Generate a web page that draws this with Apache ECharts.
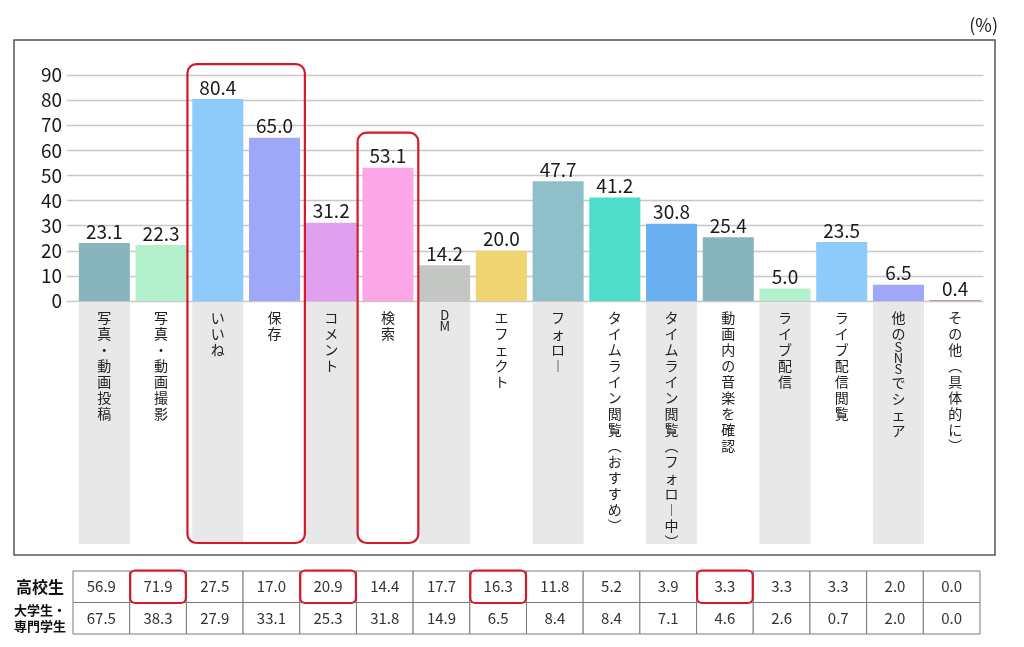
<!DOCTYPE html>
<html><head><meta charset="utf-8">
<script src="https://cdn.jsdelivr.net/npm/echarts@6/dist/echarts.min.js"></script>
<style>html,body{margin:0;padding:0;background:#fff}#c{width:1024px;height:647px}</style>
</head><body><div id="c"></div>
<script>
const categories = ['写真・動画投稿','写真・動画撮影','いいね','保存','コメント','検索','DM','エフェクト','フォロー','タイムライン閲覧（おすすめ）','タイムライン閲覧（フォロー中）','動画内の音楽を確認','ライブ配信','ライブ配信閲覧','他の SNS でシェア','その他（具体的に）'];
const totalValues = [23.1,22.3,80.4,65.0,31.2,53.1,14.2,20.0,47.7,41.2,30.8,25.4,5.0,23.5,6.5,0.4];
const barColors = ['#88b4bd','#b5f0cc','#8ecbfb','#9fa8f8','#e1a0ef','#fba6e6','#c4c6c4','#efd474','#8fbfc9','#4fdcc9','#6aaff0','#88b4bd','#b5f0cc','#8ecbfb','#9fa8f8','#d08a98'];
const yMin = 0, yMax = 90, yStep = 10;
const rowLabels = ['高校生','大学生・\n専門学生'];
const highSchool = [56.9,71.9,27.5,17.0,20.9,14.4,17.7,16.3,11.8,5.2,3.9,3.3,3.3,3.3,2.0,0.0];
const university = [67.5,38.3,27.9,33.1,25.3,31.8,14.9,6.5,8.4,8.4,7.1,4.6,2.6,0.7,2.0,0.0];
const highlightGroups = [[2,3],[5]];
const tableHighlights = [1,4,7,11];

const FONT = "'Noto Sans CJK JP','Noto Sans',sans-serif";
const RED = '#d4192b';

function vert(s){
  const map = {'（':'︵','）':'︶','ー':'︱'};
  return s.replace(/ /g,'').split('').map(ch => {
    const c = map[ch] || ch;
    return /[A-Za-z]/.test(c) ? '{lat|' + c + '}' : '{j|' + c + '}';
  }).join('\n');
}

const tableData = [];
highSchool.forEach((v,i) => tableData.push([i,0,v]));
university.forEach((v,i) => tableData.push([i,1,v]));

const chart = echarts.init(document.getElementById('c'), null, {renderer:'canvas'});
const option = {
  backgroundColor:'#fff',
  animation:false,
  textStyle:{fontFamily:FONT},
  grid:[
    {left:67, right:40.5, top:75, height:226},
    {left:76, right:40.5, top:75, height:226},
    {left:76, right:40.5, top:302, height:242},
    {left:73, right:44, top:571, height:63}
  ],
  xAxis:[
    {gridIndex:0, type:'value', min:0, max:1, show:false},
    {gridIndex:1, type:'category', data:categories, axisLine:{show:false}, axisTick:{show:false}, axisLabel:{show:false}},
    {gridIndex:2, type:'category', data:categories, axisLine:{show:false}, axisTick:{show:false}, axisLabel:{show:false}},
    {gridIndex:3, type:'category', data:categories, axisLine:{show:false}, axisTick:{show:false}, axisLabel:{show:false}}
  ],
  yAxis:[
    {gridIndex:0, type:'value', min:yMin, max:yMax, interval:yStep,
     axisLine:{show:false}, axisTick:{show:false},
     axisLabel:{fontSize:19, color:'#1a1a1a', margin:5, fontWeight:'normal', fontFamily:FONT},
     splitLine:{lineStyle:{color:'#c8c8c8', width:1.3}}},
    {gridIndex:1, type:'value', min:yMin, max:yMax, show:false},
    {gridIndex:2, type:'value', min:0, max:1, show:false},
    {gridIndex:3, type:'category', data:rowLabels, inverse:true,
     axisLine:{show:false}, axisTick:{show:false},
     axisLabel:{margin:33, align:'center',
       formatter:(v,i)=> i===0 ? '{a|'+v+'}' : v.split('\n').map(t=>'{b|'+t+'}').join('\n'),
       rich:{a:{fontSize:16, fontWeight:'bold', color:'#111', fontFamily:FONT},
             b:{fontSize:13, fontWeight:'bold', color:'#111', lineHeight:16, fontFamily:FONT}}}}
  ],
  series:[
    {type:'bar', xAxisIndex:1, yAxisIndex:1, barCategoryGap:'10%',
     data: totalValues.map((v,i)=>({value:v, itemStyle:{color:barColors[i]}})),
     label:{show:true, position:'top', distance:2, fontSize:19, color:'#1a1a1a', fontWeight:'normal', fontFamily:FONT,
            formatter:p=>p.value.toFixed(1)}},
    {type:'bar', xAxisIndex:2, yAxisIndex:2, barCategoryGap:'10%', silent:true,
     data: categories.map((c,i)=>({value:1, itemStyle:{color: i%2===0 ? '#e8e8e8' : 'rgba(255,255,255,0)'}})),
     label:{show:true, position:'insideTop', distance:8, color:'#222',
            formatter:p=>vert(p.name),
            rich:{j:{fontSize:14, lineHeight:16, color:'#222', fontFamily:FONT},
                  lat:{fontSize:13, lineHeight:11, color:'#222', fontFamily:FONT}}}},
    {type:'custom', xAxisIndex:3, yAxisIndex:3, data:tableData,
     renderItem:function(params, api){
       const col = api.value(0), row = api.value(1), v = api.value(2);
       const c = api.coord([col,row]); const s = api.size([1,1]);
       const x = c[0]-s[0]/2, y = c[1]-s[1]/2;
       const children = [
         {type:'rect', shape:{x:x, y:y, width:s[0], height:s[1]}, style:{fill:'#fff', stroke:'#7a7a7a', lineWidth:1}, z2:1},
         {type:'text', style:{text:v.toFixed(1), x:c[0], y:c[1], align:'center', verticalAlign:'middle', fontSize:15, fill:'#333', fontFamily:FONT}, z2:2}
       ];
       if(row===0 && tableHighlights.indexOf(col) >= 0){
         children.push({type:'rect', shape:{x:x+0.5, y:y-0.5, width:s[0]-1, height:s[1]+1, r:5}, style:{fill:'none', stroke:RED, lineWidth:2.2}, z2:10});
       }
       return {type:'group', children:children};
     }}
  ]
};
chart.setOption(option);

const gfx = [
  {type:'rect', shape:{x:14, y:40, width:981, height:515}, style:{fill:'none', stroke:'#555', lineWidth:1.5}, z:50},
  {type:'text', x:998, y:25, style:{text:'(%)', fontSize:18, fill:'#222', align:'right', verticalAlign:'middle', fontFamily:FONT}, z:50}
];
highlightGroups.forEach(g => {
  const first = g[0], last = g[g.length-1];
  const p0 = chart.convertToPixel({seriesIndex:0}, [categories[0], 0]);
  const p1 = chart.convertToPixel({seriesIndex:0}, [categories[1], 0]);
  const band = p1[0]-p0[0];
  const pl = chart.convertToPixel({seriesIndex:0}, [categories[first], 0]);
  const pr = chart.convertToPixel({seriesIndex:0}, [categories[last], 0]);
  const maxV = Math.max.apply(null, g.map(i=>totalValues[i]));
  const pt = chart.convertToPixel({seriesIndex:0}, [categories[first], maxV]);
  const left = pl[0]-band/2-2, right = pr[0]+band/2+2;
  const top = pt[1]-35, bottom = 543;
  gfx.push({type:'rect', shape:{x:left, y:top, width:right-left, height:bottom-top, r:9},
            style:{fill:'none', stroke:RED, lineWidth:2.2}, z:100});
});
chart.setOption({graphic:gfx});
</script>
</body></html>
